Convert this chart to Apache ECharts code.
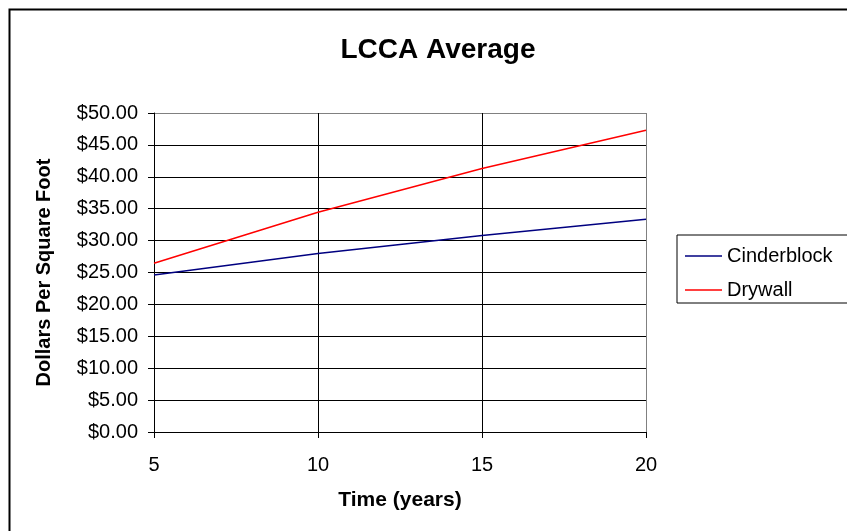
<!DOCTYPE html>
<html>
<head>
<meta charset="utf-8">
<script src="https://cdn.jsdelivr.net/npm/echarts@6/dist/echarts.min.js"></script>
<style>html,body{margin:0;padding:0;background:#fff;}#c{width:847px;height:531px;}</style>
</head>
<body>
<div id="c"></div>
<script>
const years = [5, 10, 15, 20];
const cinderblock = [24.6, 27.97, 30.8, 33.35];
const drywall = [26.45, 34.45, 41.3, 47.3];
const seriesNames = ['Cinderblock', 'Drywall'];
const titleText = 'LCCA Average';
const xName = 'Time (years)';
const yName = 'Dollars Per Square Foot';

const FONT = "'Liberation Sans', Arial, sans-serif";
const chart = echarts.init(document.getElementById('c'), null, {renderer: 'canvas'});
const ySplitColors = [];
for (let i = 0; i < 10; i++) ySplitColors.push('#000');
ySplitColors.push('#808080');
chart.setOption({
  animation: false,
  backgroundColor: '#fff',
  graphic: [{
    type: 'rect', shape: {x: 9.5, y: 9.5, width: 900, height: 600},
    style: {fill: 'none', stroke: '#000', lineWidth: 2}, z: 100
  }],
  title: {
    text: titleText, left: 433, top: 31, textAlign: 'center',
    textStyle: {fontFamily: FONT, fontWeight: 'bold', fontSize: 28, color: '#000'}
  },
  legend: {
    orient: 'vertical', left: 677, top: 235,
    padding: [11, 60, 3, 8], itemGap: 14, itemWidth: 37, itemHeight: 1.5,
    icon: 'rect',
    borderColor: '#000', borderWidth: 1,
    textStyle: {fontFamily: FONT, fontSize: 20, color: '#000'},
    data: seriesNames
  },
  grid: {left: 154, right: 201, top: 113, bottom: 99, containLabel: false},
  xAxis: {
    type: 'value', min: 5, max: 20, interval: 5,
    name: xName, nameLocation: 'middle', nameGap: 58,
    nameTextStyle: {fontFamily: FONT, fontWeight: 'bold', fontSize: 21, color: '#000'},
    axisLine: {show: true, lineStyle: {color: '#000', width: 1}},
    axisTick: {show: true, length: 6, lineStyle: {color: '#000'}},
    axisLabel: {fontFamily: FONT, fontSize: 20, color: '#000', margin: 23},
    splitLine: {show: true, lineStyle: {color: ['#000', '#000', '#000', '#808080'], width: 1}}
  },
  yAxis: {
    type: 'value', min: 0, max: 50, interval: 5,
    name: yName, nameLocation: 'middle', nameGap: 100, nameRotate: 90,
    nameTextStyle: {fontFamily: FONT, fontWeight: 'bold', fontSize: 20, color: '#000'},
    axisLine: {show: true, lineStyle: {color: '#000', width: 1}},
    axisTick: {show: true, length: 6, lineStyle: {color: '#000'}},
    axisLabel: {fontFamily: FONT, fontSize: 20, color: '#000', margin: 16,
      formatter: v => '$' + v.toFixed(2)},
    splitLine: {show: true, lineStyle: {color: ySplitColors, width: 1}}
  },
  series: [
    {name: seriesNames[0], type: 'line', symbol: 'none', color: '#000080',
     lineStyle: {color: '#000080', width: 1.5},
     data: years.map((x, i) => [x, cinderblock[i]])},
    {name: seriesNames[1], type: 'line', symbol: 'none', color: '#ff0000',
     lineStyle: {color: '#ff0000', width: 1.5},
     data: years.map((x, i) => [x, drywall[i]])}
  ]
});
</script>
</body>
</html>
